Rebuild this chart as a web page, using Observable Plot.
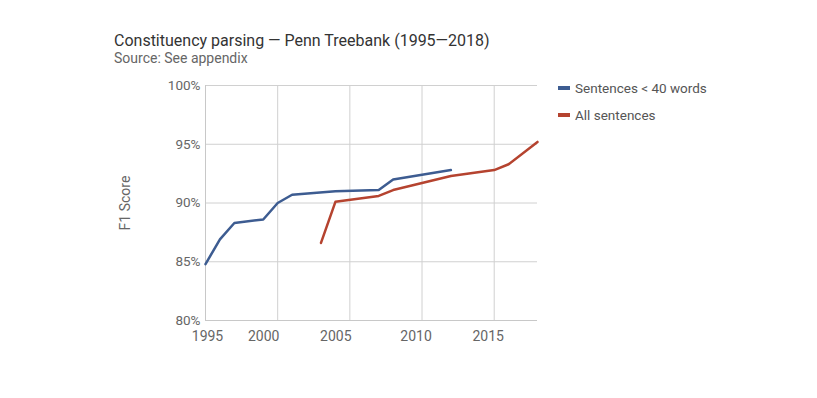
<!DOCTYPE html>
<html>
<head>
<meta charset="utf-8">
<script src="https://cdn.jsdelivr.net/npm/d3@7"></script>
<script src="https://cdn.jsdelivr.net/npm/@observablehq/plot@0.6"></script>
<style>
  body { margin: 0; background: #fff; font-family: Roboto, "Noto Sans", sans-serif; }
  #wrap { position: relative; width: 817px; height: 398px; overflow: hidden; }
  .title { position: absolute; left: 114px; top: 31px; font-size: 16px; color: #333; white-space: nowrap; }
  .subtitle { position: absolute; left: 114px; top: 50px; font-size: 14px; color: #666; white-space: nowrap; }
  .legend { position: absolute; left: 558px; top: 74px; font-size: 13.5px; color: #555; }
  .legend div { display: flex; align-items: center; height: 27px; }
  .legend span.sw { display: inline-block; width: 12px; height: 4px; margin-right: 5px; }
  #chart { position: absolute; left: 0; top: 0; }
</style>
</head>
<body>
<div id="wrap">
  <div id="chart"></div>
  <div class="title">Constituency parsing — Penn Treebank (1995—2018)</div>
  <div class="subtitle">Source: See appendix</div>
  <div class="legend" id="legend"></div>
</div>
<script>
const seriesNames = ["Sentences < 40 words", "All sentences"];
const seriesColors = ["#3d5c91", "#b5432f"];

const shortYears = [1995, 1996, 1997, 1999, 2000, 2001, 2004, 2007, 2008, 2012];
const shortF1    = [84.8, 86.9, 88.3, 88.6, 90.0, 90.7, 91.0, 91.1, 92.0, 92.8];

const allYears = [2003, 2004, 2007, 2008, 2010, 2012, 2015, 2016, 2018];
const allF1    = [86.6, 90.1, 90.6, 91.1, 91.7, 92.3, 92.8, 93.3, 95.2];

const xTicks = [1995, 2000, 2005, 2010, 2015];
const yTicks = [80, 85, 90, 95, 100];

const data = [
  ...shortYears.map((y, i) => ({series: seriesNames[0], year: y, f1: shortF1[i]})),
  ...allYears.map((y, i) => ({series: seriesNames[1], year: y, f1: allF1[i]}))
];

const xAxisStyle = {tickSize: 0, tickPadding: 11, tickFormat: d => String(d), fill: "#666", fontSize: 14, label: null};

const chart = Plot.plot({
  width: 817,
  height: 398,
  marginLeft: 205,
  marginRight: 280,
  marginTop: 85,
  marginBottom: 78,
  style: {fontFamily: "Roboto, 'Noto Sans', sans-serif", fontSize: "13px", color: "#666", background: "transparent"},
  x: {domain: [1995, 2018], ticks: xTicks, tickFormat: d => String(d), label: null},
  y: {domain: [80, 100], ticks: yTicks, tickFormat: d => d + "%", label: null},
  color: {domain: seriesNames, range: seriesColors},
  marks: [
    Plot.gridX(xTicks.slice(1), {stroke: "#d0d0d0", strokeOpacity: 1}),
    Plot.gridY(yTicks.slice(1), {stroke: "#d0d0d0", strokeOpacity: 1}),
    Plot.ruleX([1995], {stroke: "#c8c8c8"}),
    Plot.ruleY([80], {stroke: "#c8c8c8"}),
    Plot.axisX(xTicks.slice(0, 1), {...xAxisStyle, dx: 2}),
    Plot.axisX(xTicks.slice(1, 3), {...xAxisStyle, dx: -14}),
    Plot.axisX(xTicks.slice(3), {...xAxisStyle, dx: -6}),
    Plot.axisY({ticks: yTicks, tickSize: 0, tickPadding: 5, tickFormat: d => d + "%", fill: "#666", fontSize: 13.5, label: null}),
    Plot.text(["F1 Score"], {frameAnchor: "left", textAnchor: "middle", dx: -80, rotate: -90, fill: "#666", fontSize: 14}),
    Plot.line(data, {x: "year", y: "f1", z: "series", stroke: "series", strokeWidth: 2.5, strokeLinejoin: "round"})
  ]
});
document.getElementById("chart").appendChild(chart);

const legend = document.getElementById("legend");
seriesNames.forEach((n, i) => {
  const row = document.createElement("div");
  row.innerHTML = `<span class="sw" style="background:${seriesColors[i]}"></span>${n}`;
  legend.appendChild(row);
});
</script>
</body>
</html>
